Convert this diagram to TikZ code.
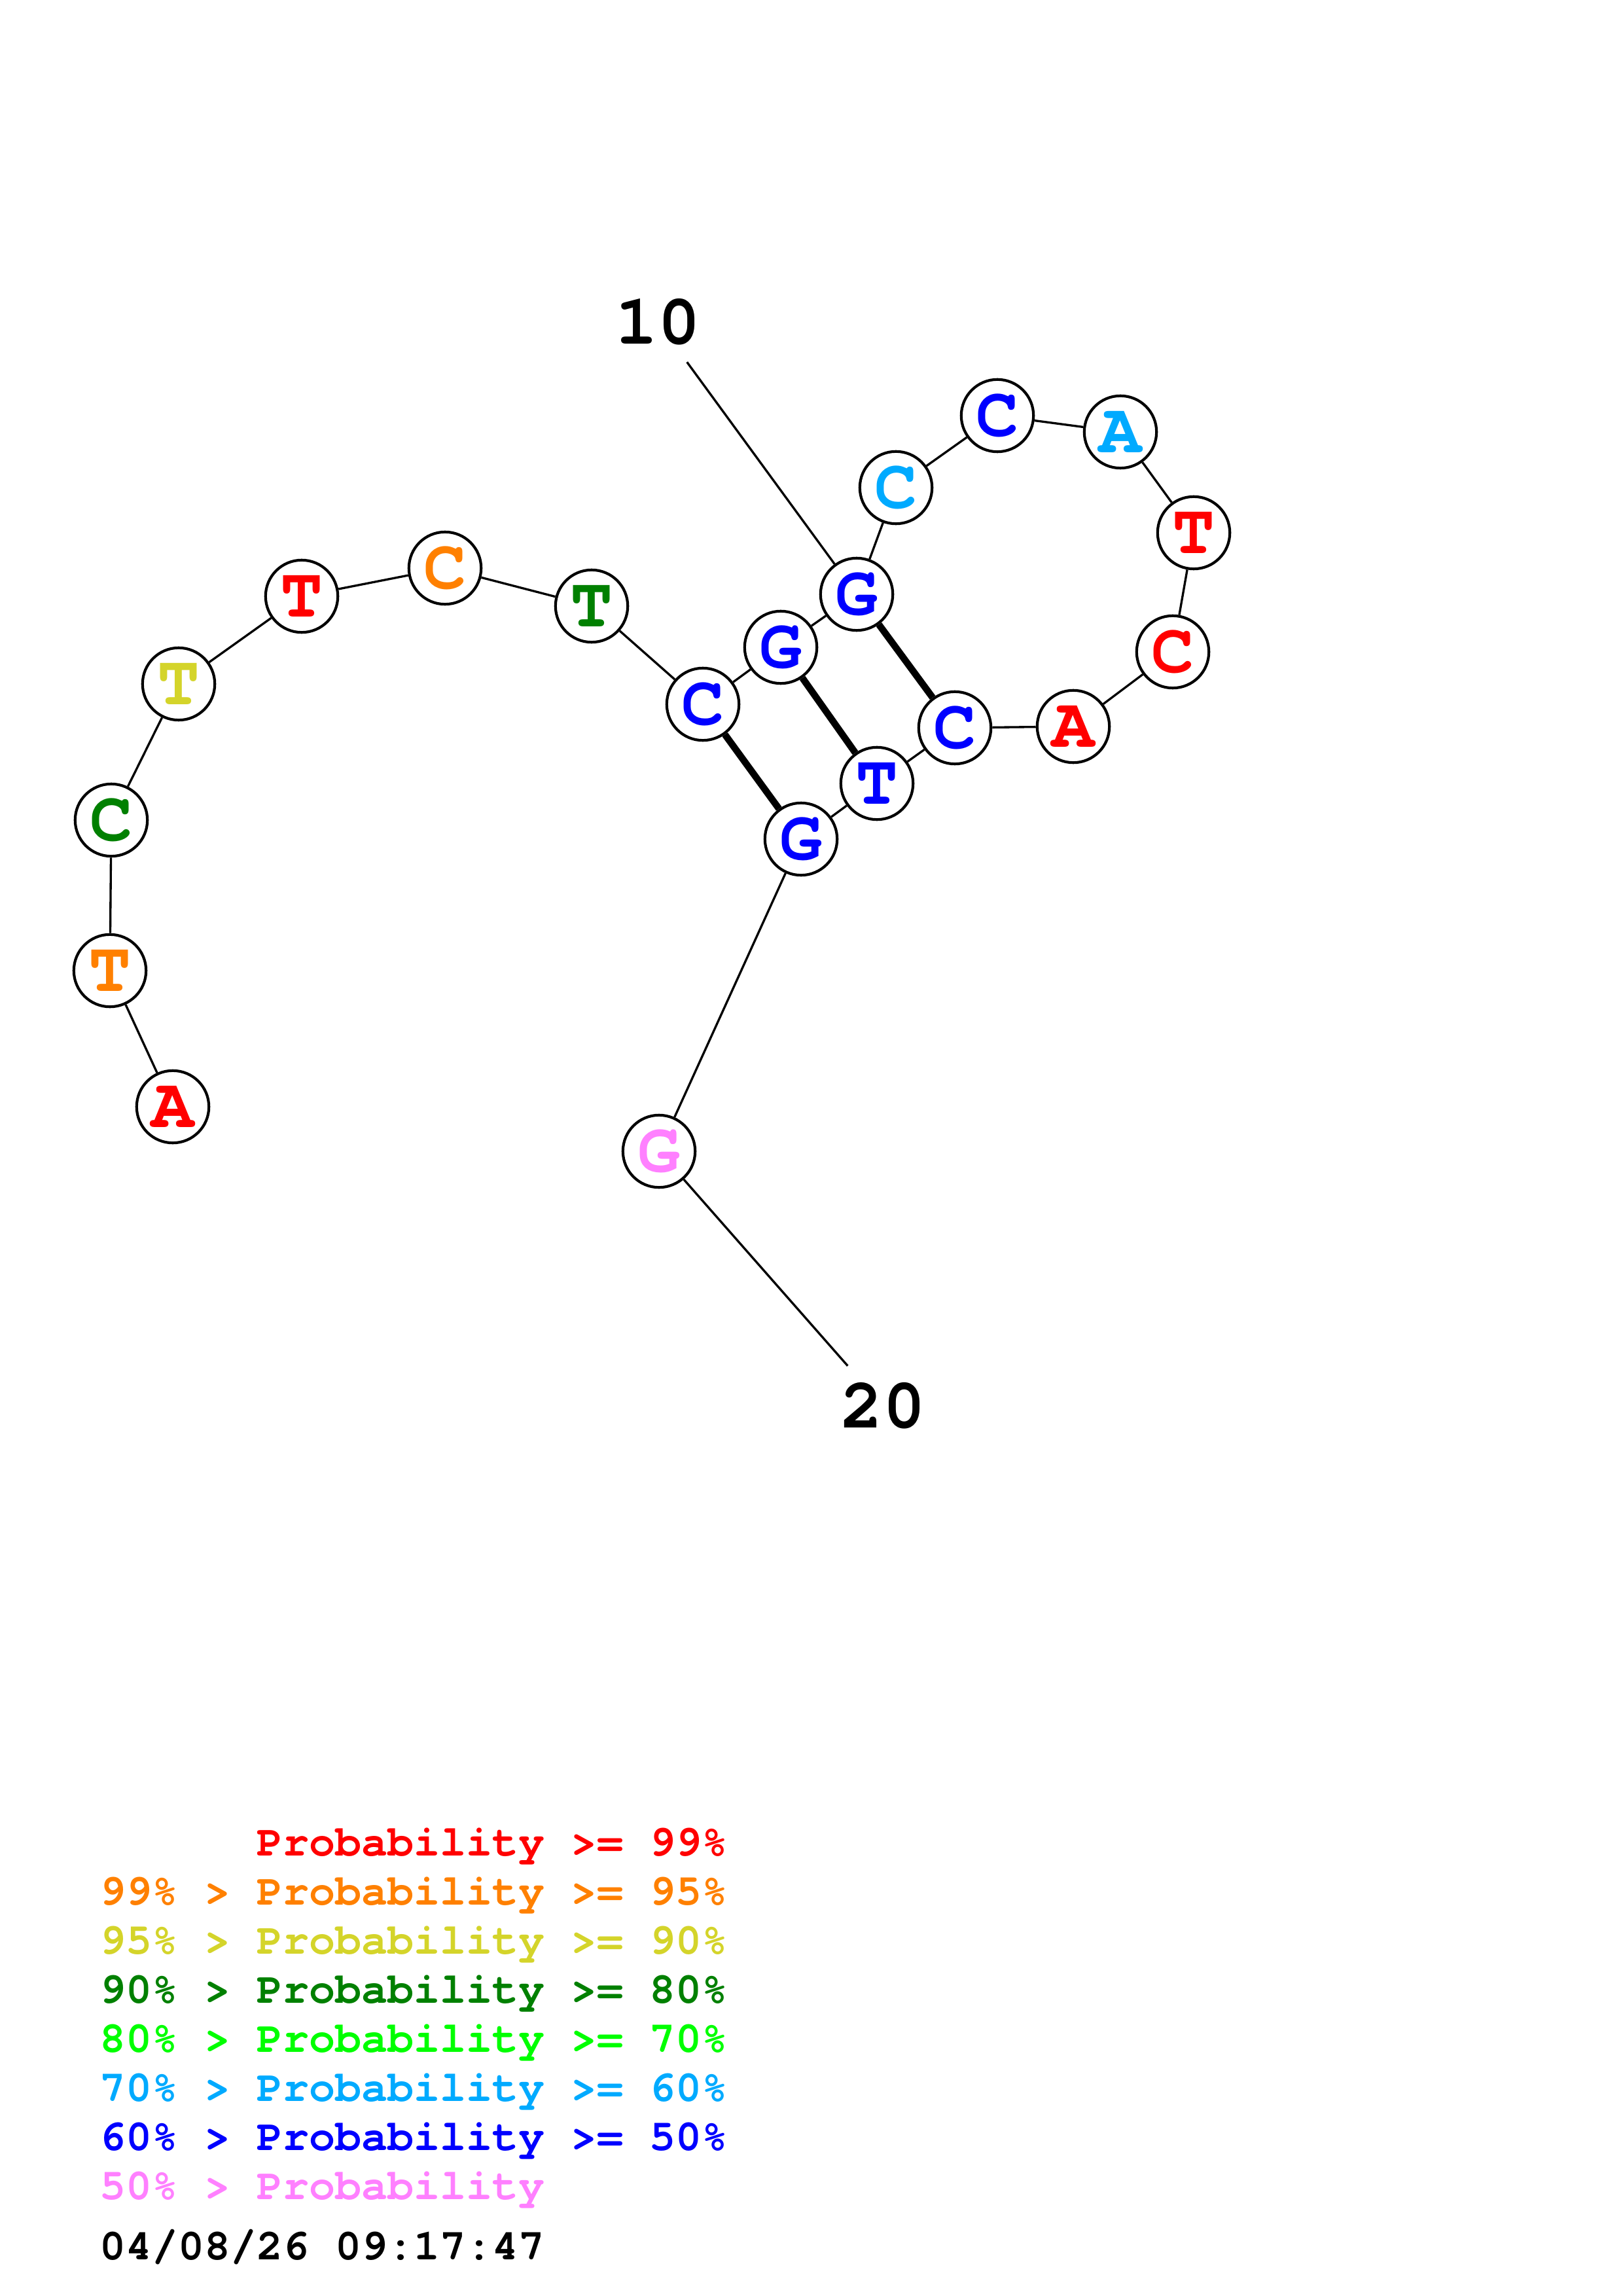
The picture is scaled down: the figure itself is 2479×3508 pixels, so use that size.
\documentclass[tikz,border=0pt]{standalone}
\usepackage{fontspec}
\setmonofont{TeX Gyre Cursor}
\usepackage{xcolor}
\usepackage{tikz}
\definecolor{pr99}{HTML}{FF0000}
\definecolor{pr95}{HTML}{FF8000}
\definecolor{pr90}{HTML}{D4D42A}
\definecolor{pr80}{HTML}{008000}
\definecolor{pr70}{HTML}{00FF00}
\definecolor{pr60}{HTML}{00AAFF}
\definecolor{pr50}{HTML}{0000FF}
\definecolor{prlow}{HTML}{FF80FF}
\newcommand{\basefont}{\fontsize{26}{26}\selectfont\ttfamily\bfseries}
\newcommand{\legendfont}{\fontsize{16}{18}\selectfont\ttfamily\bfseries}
\tikzset{
  nt/.style={circle, draw=black, line width=1pt, fill=white, minimum size=26.5pt,
             inner sep=0pt, font=\basefont},
  backbone/.style={line width=0.8pt},
  pairline/.style={line width=2.5pt},
  posnum/.style={inner sep=6pt, font=\basefont},
  legendrow/.style={anchor=base west, inner sep=0pt, font=\legendfont},
}

\begin{document}
\begin{tikzpicture}[x=0.24pt, y=-0.24pt]
\useasboundingbox (0,0) rectangle (2479,3508);

% bases
\node[nt, text=pr99]  (n1)  at (264,1691) {A};
\node[nt, text=pr95]  (n2)  at (168,1483) {T};
\node[nt, text=pr80]  (n3)  at (170,1253) {C};
\node[nt, text=pr90]  (n4)  at (273,1045) {T};
\node[nt, text=pr99]  (n5)  at (461,911)  {T};
\node[nt, text=pr95]  (n6)  at (680,868)  {C};
\node[nt, text=pr80]  (n7)  at (904,926)  {T};
\node[nt, text=pr50]  (n8)  at (1074,1076) {C};
\node[nt, text=pr50]  (n9)  at (1193,989) {G};
\node[nt, text=pr50]  (n10) at (1309,908) {G};
\node[nt, text=pr60]  (n11) at (1369,745) {C};
\node[nt, text=pr50]  (n12) at (1524,635) {C};
\node[nt, text=pr60]  (n13) at (1712,660) {A};
\node[nt, text=pr99]  (n14) at (1824,814) {T};
\node[nt, text=pr99]  (n15) at (1792,996) {C};
\node[nt, text=pr99]  (n16) at (1640,1110) {A};
\node[nt, text=pr50]  (n17) at (1459,1112) {C};
\node[nt, text=pr50]  (n18) at (1340,1197) {T};
\node[nt, text=pr50]  (n19) at (1224,1282) {G};
\node[nt, text=prlow] (n20) at (1007,1759) {G};

% backbone
\draw[backbone] (n1) -- (n2) -- (n3) -- (n4) -- (n5) -- (n6) -- (n7) -- (n8)
  -- (n9) -- (n10) -- (n11) -- (n12) -- (n13) -- (n14) -- (n15) -- (n16)
  -- (n17) -- (n18) -- (n19) -- (n20);

% pairs
\draw[pairline] (n8) -- (n19);
\draw[pairline] (n9) -- (n18);
\draw[pairline] (n10) -- (n17);

% position numbers
\node[posnum] (p10) at (1005,492) {10};
\node[posnum] (p20) at (1349,2148) {20};
\draw[backbone] (p10) -- (n10);
\draw[backbone] (n20) -- (p20);

% legend
\node[legendrow, text=pr99]  (l99) at (152,2835) {\phantom{99\% > }Probability >= 99\%};
\node[legendrow, text=pr95]  (l95) at (152,2910) {99\% > Probability >= 95\%};
\node[legendrow, text=pr90]  (l90) at (152,2985) {95\% > Probability >= 90\%};
\node[legendrow, text=pr80]  (l80) at (152,3060) {90\% > Probability >= 80\%};
\node[legendrow, text=pr70]  (l70) at (152,3135) {80\% > Probability >= 70\%};
\node[legendrow, text=pr60]  (l60) at (152,3210) {70\% > Probability >= 60\%};
\node[legendrow, text=pr50]  (l50) at (152,3285) {60\% > Probability >= 50\%};
\node[legendrow, text=prlow] (llow) at (152,3360) {50\% > Probability};
\node[legendrow, text=black] (stamp) at (152,3452) {04/08/26 09:17:47};
\end{tikzpicture}
\end{document}
